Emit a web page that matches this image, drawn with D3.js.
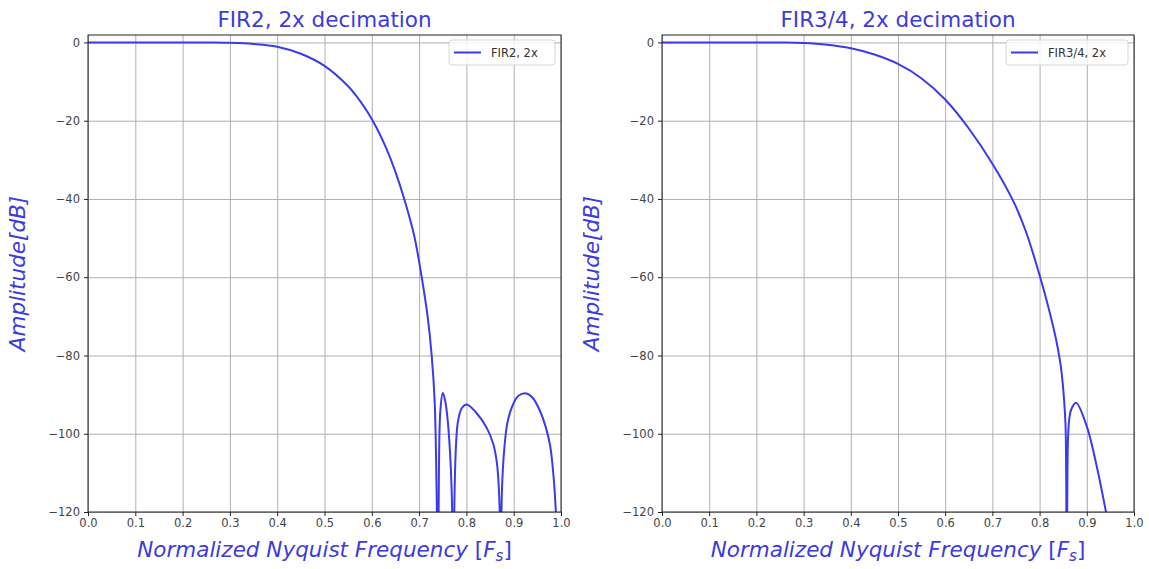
<!DOCTYPE html>
<html>
<head>
<meta charset="utf-8">
<script src="https://cdn.jsdelivr.net/npm/d3@7"></script>
<style>
  body { margin: 0; background: #fff; }
  svg { display: block; font-family: "DejaVu Sans", sans-serif; }
</style>
</head>
<body>
<div id="chart"></div>
<script>
// values
const freqFir2 = [0, 0.1, 0.2, 0.25, 0.3, 0.35, 0.4, 0.45, 0.5, 0.55, 0.57, 0.59, 0.61, 0.63, 0.65, 0.67, 0.69, 0.7055, 0.718, 0.7266, 0.733, 0.737, 0.740,
  0.742, 0.745, 0.750, 0.755, 0.760, 0.765, 0.769, 0.7725,
  0.775, 0.778, 0.782, 0.790, 0.8006, 0.82, 0.843, 0.857, 0.865, 0.870, 0.8725,
  0.875, 0.880, 0.887, 0.899, 0.91, 0.927, 0.94, 0.955, 0.967, 0.977, 0.985, 0.990, 1.0];
const ampFir2 = [0, 0, 0, -0.03, -0.1, -0.4, -1.1, -2.9, -6.0, -11.2, -14.1, -17.6, -21.8, -26.9, -33.1, -40.6, -49.6, -60, -70, -80, -92, -115, -145,
  -108, -94, -89.6, -91.5, -96, -104, -115, -145,
  -115, -103, -97, -93.5, -92.5, -94.5, -98.5, -102.7, -108, -118, -145,
  -115, -104, -97, -92.4, -90.3, -89.7, -90.8, -94, -98, -103, -112, -122, -150];

const freqFir34 = [0, 0.1, 0.2, 0.25, 0.3, 0.35, 0.4, 0.45, 0.5, 0.55, 0.6, 0.65, 0.7, 0.744, 0.77, 0.8, 0.82, 0.835, 0.845, 0.851, 0.855, 0.8575,
  0.860, 0.863, 0.867, 0.8771, 0.8997, 0.921, 0.9407, 0.95];
const ampFir34 = [0, 0, 0, -0.03, -0.15, -0.6, -1.5, -3.1, -5.5, -9.2, -14.6, -22, -31, -40.5, -48, -59.5, -68.3, -76, -82.8, -90, -98, -145,
  -102, -96, -93.8, -92.1, -98, -108.3, -120, -126];

const xTicks = [0, 0.1, 0.2, 0.3, 0.4, 0.5, 0.6, 0.7, 0.8, 0.9, 1.0];
const yTicks = [0, -20, -40, -60, -80, -100, -120];

const titles = ["FIR2, 2x decimation", "FIR3/4, 2x decimation"];
const legendLabels = ["FIR2, 2x", "FIR3/4, 2x"];

const width = 1149, height = 569;
const lineColour = "#3a3aee";
const textBlue = "#3b3be0";

const svg = d3.select("#chart").append("svg")
  .attr("width", width).attr("height", height);

// panel boxes (plot area) in pixels
const panels = [
  { left: 88, right: 561, top: 35, bottom: 512, freq: freqFir2, amp: ampFir2 },
  { left: 662, right: 1134, top: 35, bottom: 512, freq: freqFir34, amp: ampFir34 }
];

panels.forEach((p, i) => {
  const x = d3.scaleLinear().domain([0, 1]).range([p.left, p.right]);
  const y = d3.scaleLinear().domain([-120, 1.9]).range([p.bottom, p.top]);
  const h = p.bottom - p.top, w = p.right - p.left;

  const g = svg.append("g");

  // grid
  g.append("g")
    .attr("transform", `translate(0,${p.bottom})`)
    .call(d3.axisBottom(x).tickValues(xTicks).tickSize(-h).tickFormat(""))
    .call(s => s.select(".domain").remove())
    .call(s => s.selectAll("line").attr("stroke", "#b0b0b0").attr("stroke-width", 1));
  g.append("g")
    .attr("transform", `translate(${p.left},0)`)
    .call(d3.axisLeft(y).tickValues(yTicks).tickSize(-w).tickFormat(""))
    .call(s => s.select(".domain").remove())
    .call(s => s.selectAll("line").attr("stroke", "#b0b0b0").attr("stroke-width", 1));

  // curve, clipped to the plot area
  const clipId = "clip" + i;
  svg.append("clipPath").attr("id", clipId)
    .append("rect").attr("x", p.left).attr("y", p.top).attr("width", w).attr("height", h);

  const line = d3.line()
    .x(d => x(d[0]))
    .y(d => y(d[1]))
    .curve(d3.curveCatmullRom.alpha(0.5));

  g.append("path")
    .datum(p.freq.map((f, k) => [f, p.amp[k]]))
    .attr("clip-path", `url(#${clipId})`)
    .attr("fill", "none")
    .attr("stroke", lineColour)
    .attr("stroke-width", 2)
    .attr("d", line);

  // frame
  g.append("rect")
    .attr("x", p.left).attr("y", p.top).attr("width", w).attr("height", h)
    .attr("fill", "none").attr("stroke", "#222").attr("stroke-width", 1);

  // axes
  g.append("g")
    .attr("transform", `translate(0,${p.bottom})`)
    .call(d3.axisBottom(x).tickValues(xTicks).tickSize(4).tickPadding(3).tickFormat(d3.format(".1f")))
    .call(s => s.select(".domain").remove())
    .call(s => s.selectAll("line").attr("stroke", "#222"));
  g.append("g")
    .attr("transform", `translate(${p.left},0)`)
    .call(d3.axisLeft(y).tickValues(yTicks).tickSize(4).tickPadding(4).tickFormat(d => d3.format("d")(d).replace("-", "\u2212")))
    .call(s => s.select(".domain").remove())
    .call(s => s.selectAll("line").attr("stroke", "#222"));
  g.selectAll(".tick text").attr("font-family", "DejaVu Sans").attr("font-size", "11.5px").attr("fill", "#444");

  // title
  g.append("text")
    .attr("x", (p.left + p.right) / 2).attr("y", 27)
    .attr("text-anchor", "middle")
    .attr("font-size", "21.5px").attr("fill", textBlue)
    .text(titles[i]);

  // y label
  g.append("text")
    .attr("transform", `translate(${p.left - 63},${(p.top + p.bottom) / 2}) rotate(-90)`)
    .attr("text-anchor", "middle")
    .attr("font-size", "21.5px").attr("font-style", "italic").attr("fill", textBlue)
    .text("Amplitude[dB]");

  // x label
  const xl = g.append("text")
    .attr("x", (p.left + p.right) / 2).attr("y", 557)
    .attr("text-anchor", "middle")
    .attr("font-size", "21.5px").attr("fill", textBlue);
  xl.append("tspan").attr("font-style", "italic").text("Normalized Nyquist Frequency ");
  xl.append("tspan").text("[");
  xl.append("tspan").attr("font-style", "italic").text("F");
  xl.append("tspan").attr("font-style", "italic").attr("font-size", "15px").attr("dy", 4).text("s");
  xl.append("tspan").attr("dy", -4).text("]");

  // legend
  const lg = g.append("g");
  const lw = i === 0 ? 106 : 122;
  const lx = p.right - 6 - lw;
  lg.append("rect")
    .attr("x", lx).attr("y", 40).attr("width", lw).attr("height", 25).attr("rx", 3)
    .attr("fill", "#fff").attr("fill-opacity", 0.8).attr("stroke", "#d6d6d6");
  lg.append("line")
    .attr("x1", lx + 5).attr("x2", lx + 32).attr("y1", 52.5).attr("y2", 52.5)
    .attr("stroke", lineColour).attr("stroke-width", 2);
  lg.append("text")
    .attr("x", lx + 42).attr("y", 57)
    .attr("font-size", "11.5px").attr("fill", "#333")
    .text(legendLabels[i]);
});
</script>
</body>
</html>
